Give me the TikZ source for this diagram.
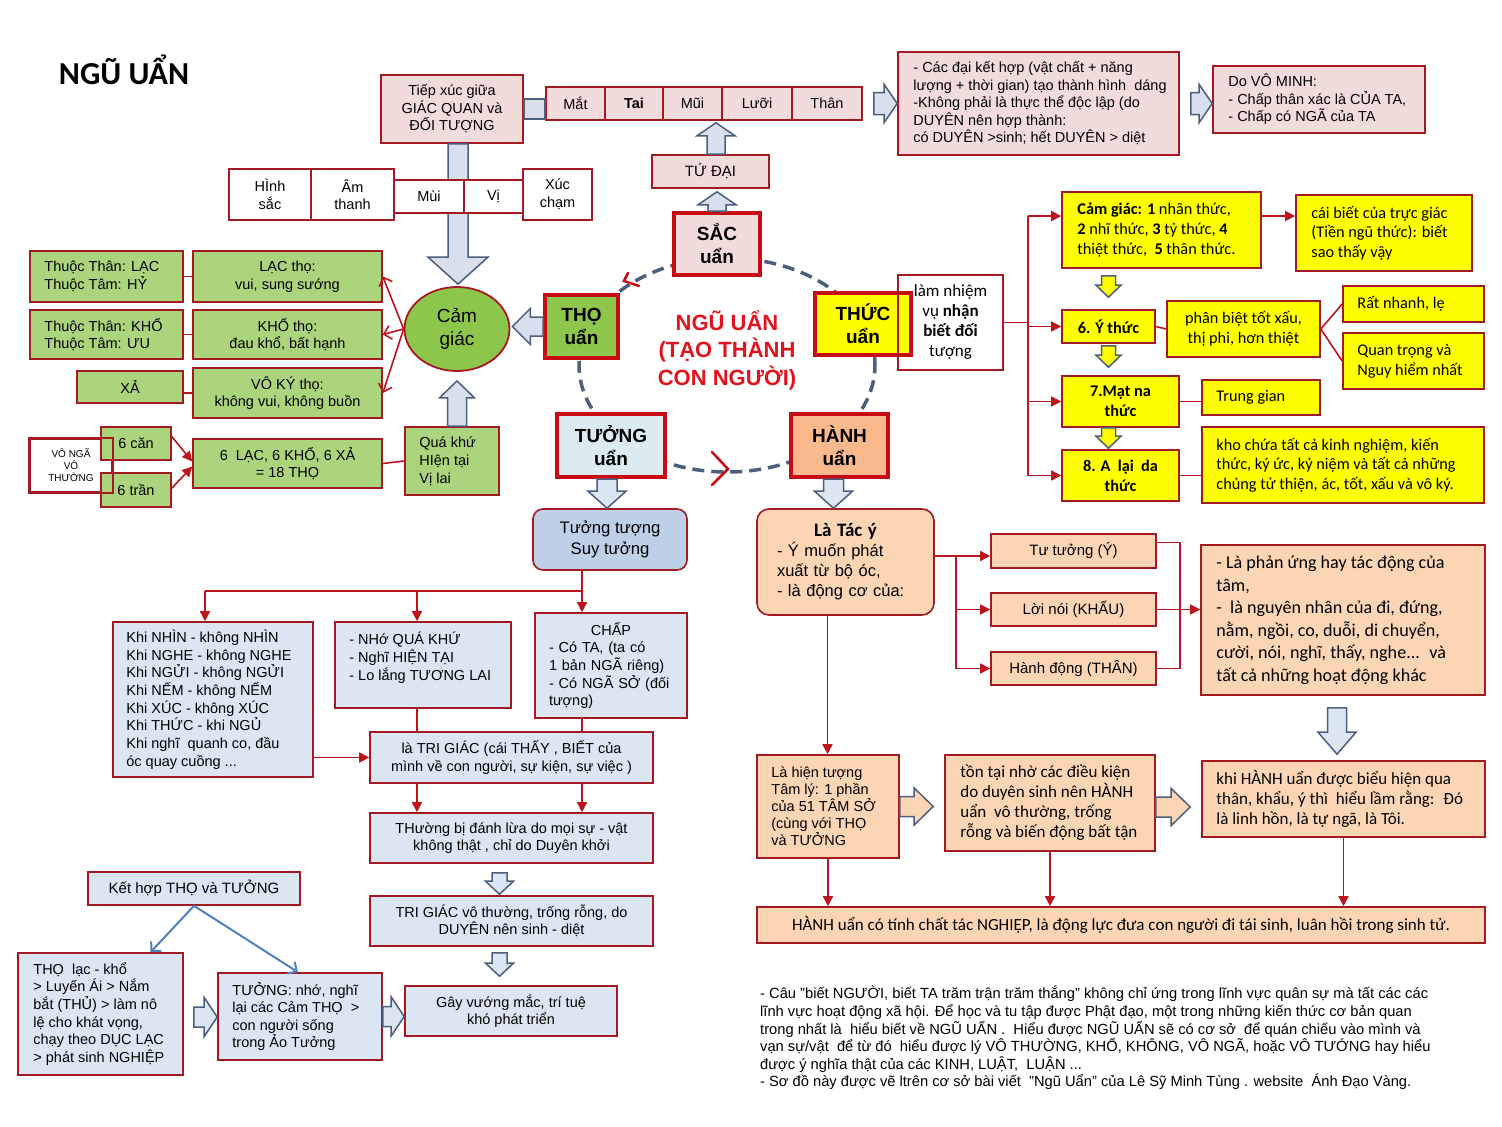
\documentclass[tikz,border=0pt]{standalone}
\usepackage{fontspec}
\setmainfont{Liberation Sans}
\newfontfamily\calfont{Carlito}
\usetikzlibrary{calc,arrows.meta,shapes.geometric}

\definecolor{dred}{RGB}{165,25,35}
\definecolor{cred}{RGB}{200,10,20}
\definecolor{lred}{RGB}{190,20,30}
\definecolor{pinkc}{RGB}{242,220,219}
\definecolor{lgreen}{RGB}{172,212,125}
\definecolor{mgreen}{RGB}{140,198,75}
\definecolor{yel}{RGB}{255,255,0}
\definecolor{lblue}{RGB}{220,230,242}
\definecolor{mblue}{RGB}{190,208,232}
\definecolor{tblue}{RGB}{220,234,242}
\definecolor{peach}{RGB}{252,213,181}
\definecolor{orng}{RGB}{249,185,140}
\definecolor{slate}{RGB}{75,95,125}
\definecolor{lav}{RGB}{218,223,238}
\definecolor{txtred}{RGB}{225,20,30}
\definecolor{steel}{RGB}{79,129,189}

\newcommand\fA{\fontsize{14.5}{17.5}\selectfont}
\newcommand\fC{\calfont\fontsize{17}{20}\selectfont}
\newcommand\fY{\calfont\fontsize{16.3}{19.7}\selectfont}

\tikzset{
  box/.style={draw=dred, line width=1.6pt, inner sep=0pt, align=center, font=\fA},
  pk/.style={fill=pinkc},
  wh/.style={fill=white},
  gr/.style={fill=lgreen},
  yb/.style={fill=yel, font=\fY},
  uan/.style={draw=cred, line width=4pt, inner sep=0pt, align=center, font=\fontsize{19}{23}\selectfont\bfseries},
  conn/.style={draw=lred, line width=1.6pt},
  carr/.style={conn, -{Triangle[length=10pt,width=10pt]}},
  barb/.style={conn, -{Straight Barb[length=7pt,width=14pt]}},
  barrow/.style={draw=slate, line width=1.5pt, fill=lav, line join=miter},
  dashring/.style={draw=slate, line width=3.5pt, dash pattern=on 12pt off 7pt},
  rmark/.style={draw=cred, line width=2.5pt, line cap=round},
}

% box: [opts]{name}{x1}{y1}{x2}{y2}{text}
\newcommand\bx[7][]{\node[box,minimum width={(#5-#3)*1pt},minimum height={(#6-#4)*1pt},#1] (#2) at ({(#3+#5)/2},{(#4+#6)/2}) {#7};}
% left-aligned box: [opts]{name}{x1}{y1}{x2}{y2}{pad}{text}
\newcommand\lbx[8][]{\node[box,minimum width={(#5-#3)*1pt},minimum height={(#6-#4)*1pt},#1] (#2) at ({(#3+#5)/2},{(#4+#6)/2}) {};
  \node[align=left,inner sep=0pt,anchor=west,font=\fA,#1,draw=none,fill=none] (#2-t) at ($(#2.west)+(#7,0)$) {#8};}
% fixed text width box
\newcommand\wbx[8][]{\pgfmathsetmacro\tw{#5-#3-2*#7}\node[box,align=left,text width=\tw pt,inner xsep=#7pt,minimum height={(#6-#4)*1pt},#1] (#2) at ({(#3+#5)/2},{(#4+#6)/2}) {#8};}
% vertical block arrow: [opts]{start}{tip}{shaft half}{head half}{head length (signed)}
\newcommand\varr[6][]{\coordinate (va1) at #2; \coordinate (vq) at #3; \coordinate (va2) at (va1 |- vq);
  \draw[barrow,#1] ($(va1)+({-#4},0)$) -- ($(va2)+({-#4},{-(#6)})$) -- ($(va2)+({-#5},{-(#6)})$) -- (va2) -- ($(va2)+({#5},{-(#6)})$) -- ($(va2)+({#4},{-(#6)})$) -- ($(va1)+({#4},0)$) -- cycle;}
% horizontal block arrow
\newcommand\harr[6][]{\coordinate (ha1) at #2; \coordinate (hq) at #3; \coordinate (ha2) at (hq |- ha1);
  \draw[barrow,#1] ($(ha1)+(0,{-#4})$) -- ($(ha2)+({-(#6)},{-#4})$) -- ($(ha2)+({-(#6)},{-#5})$) -- (ha2) -- ($(ha2)+({-(#6)},{#5})$) -- ($(ha2)+({-(#6)},{#4})$) -- ($(ha1)+(0,{#4})$) -- cycle;}

\begin{document}
\begin{tikzpicture}[x=1pt,y=-1pt]
\fill[white] (0,0) rectangle (1502,1127);
\useasboundingbox (0,0) rectangle (1502,1127);

% title
\node[font=\calfont\fontsize{32}{36}\selectfont\bfseries, inner sep=0pt] (title) at (124,70) {NGŨ UẨN};

% ===== top (SAC) =====
\bx[pk]{tiep}{381}{75}{523}{143}{Tiếp xúc giữa\\GIÁC QUAN và\\ĐỐI TƯỢNG}
\node[ellipse, draw=dred, line width=1.8pt, fill=mgreen, minimum width=105pt, minimum height=84pt, inner sep=0pt, align=center, font=\fontsize{19}{23}\selectfont] (camgiac) at (457,329) {Cảm\\giác};
\varr{($(tiep.south)+(6,0)$)}{($(camgiac.north)+(0,-2)$)}{10}{30}{27}
\bx[wh]{hinh}{229}{169}{311}{220}{HÌnh\\sắc}
\bx[wh]{am}{311}{169}{394}{220}{Âm\\thanh}
\bx[wh]{muiob}{394}{180}{464}{213}{Mùi}
\bx[wh]{vi}{464}{180}{523}{213}{Vị}
\bx[wh]{xuc}{523}{169}{592}{220}{Xúc\\chạm}

\bx[pk]{mat}{546}{87}{605}{120}{Mắt}
\bx[pk]{tai}{605}{87}{663}{120}{\textbf{Tai}}
\bx[pk]{mui}{663}{87}{722}{120}{Mũi}
\bx[pk]{luoi}{722}{87}{792}{120}{Lưỡi}
\bx[pk]{than}{792}{87}{862}{120}{Thân}
\draw[barrow] ($(tiep.east)+(0,-10)$) rectangle ($(tiep.east -| mat.west)+(0,10)$);

\bx[pk,font=\fontsize{15}{18}\selectfont]{tudai}{652}{155}{769}{188}{TỨ ĐẠI}
\lbx[pk]{cacdai}{898}{52}{1179}{155}{16}{- Các đại kết hợp (vật chất + năng\\lượng + thời gian) tạo thành hình~ dáng\\-Không phải là thực thể độc lập (do\\DUYÊN nên hợp thành:\\có DUYÊN >sinh; hết DUYÊN > diệt}
\lbx[pk]{vominh}{1213}{66}{1425}{133}{16}{Do VÔ MINH:\\- Chấp thân xác là CỦA TA,\\- Chấp có NGÃ của TA}

% ===== centre ring =====
\draw[dashring] (727,365) ellipse [x radius=148pt, y radius=107pt];
\node[uan, fill=pinkc, minimum width=86pt, minimum height=62pt] (sac) at (717,244) {SẮC\\uẩn};
\node[uan, fill=mgreen, minimum width=73pt, minimum height=63pt] (tho) at (581.5,326.5) {THỌ\\uẩn};
\node[uan, fill=yel, minimum width=96pt, minimum height=62pt] (thuc) at (863,324) {THỨC\\uẩn};
\node[uan, fill=tblue, minimum width=108pt, minimum height=63pt] (tuong) at (611,445.5) {TƯỞNG\\uẩn};
\node[uan, fill=orng, minimum width=97pt, minimum height=63pt] (hanh) at (839.5,445.5) {HÀNH\\uẩn};
\node[text=txtred, font=\fontsize{22}{27.5}\selectfont\bfseries, align=center, inner sep=0pt] (ctext) at (727,350) {NGŨ UẨN\\(TẠO THÀNH\\CON NGƯỜI)};
\draw[rmark] (628,273) -- (624,281) -- (639,286);
\draw[rmark] (712,452) -- (728,469) -- (712,485);

\varr{($(tudai.north)+(5.5,0)$)}{($(mat.south)+(0,2)$)}{9}{19}{-13}
\varr{(sac.north)}{($(tudai.south)+(0,3)$)}{9}{19}{-13}
\harr{($(than.east)+(11,0)$)}{(cacdai.west)}{11}{19}{13}
\harr{($(cacdai.east)+(11,0)$)}{(vominh.west)}{11}{19}{13}

% ===== left (THO) =====
\lbx[gr]{lac1}{30}{251}{183}{302}{15}{Thuộc Thân: LẠC\\Thuộc Tâm: HỶ}
\bx[gr]{lac2}{193}{251}{382}{302}{LẠC thọ:\\vui, sung sướng}
\lbx[gr]{kho1}{30}{310}{183}{359}{15}{Thuộc Thân: KHỔ\\Thuộc Tâm: ƯU}
\bx[gr]{kho2}{193}{310}{382}{359}{KHỔ thọ:\\đau khổ, bất hạnh}
\bx[gr]{xa1}{77}{371}{183}{403}{XẢ}
\bx[gr]{xa2}{193}{368}{382}{418}{VÔ KÝ thọ:\\không vui, không buồn}
\bx[wh,font=\fontsize{10}{12}\selectfont]{vonga}{30}{439}{112}{492}{VÔ NGÃ\\VÔ\\THƯỜNG}
\bx[gr]{can6}{101}{427}{171}{460}{6 căn}
\bx[gr]{tran6}{101}{473}{171}{507}{6 trần}
\draw[dred, line width=1.6pt] (vonga.north west) rectangle (vonga.south east);
\bx[gr]{tho18}{193}{439}{382}{488}{6~ LẠC, 6 KHỔ, 6 XẢ\\= 18 THỌ}
\lbx[gr,font=\fontsize{14.5}{18}\selectfont]{quakhu}{405}{427}{499}{495}{15}{Quá khứ\\HIện tại\\Vị lai}

\draw[conn] (lac1) -- (lac2);
\draw[conn] (kho1) -- (kho2);
\draw[conn] (xa2.west -| xa1.east) -- (xa2.west);
\draw[barb] (camgiac.west) -- (lac2.east);
\draw[barb] (camgiac.west) -- (kho2.east);
\draw[barb] (camgiac.west) -- (xa2.east);
\draw[carr] ($(can6.north east)!0.3!(can6.south east)$) -- ($(tho18.west)+(0,-2)$);
\draw[carr] ($(tran6.north east)!0.45!(tran6.south east)$) -- ($(tho18.west)+(0,3)$);
\draw[conn] (tho18.east) -- (quakhu.west);
\varr{($(quakhu.north)+(5,0)$)}{($(camgiac.south)+(0,9)$)}{9.5}{17.5}{-17}
\harr{(tho.west)}{($(camgiac.east)+(2,0)$)}{9.5}{18}{-18}

% ===== THUC =====
\bx[font=\fC]{lamnv}{898}{275}{1003}{370}{làm nhiệm\\vụ \textbf{nhận}\\\textbf{biết đối}\\tượng}
\lbx[yb]{cgy}{1062}{192}{1261}{268}{16}{\textbf{Cảm giác: 1} nhãn thức,\\\textbf{2} nhĩ thức, \textbf{3} tỷ thức, \textbf{4}\\thiệt thức,~ \textbf{5} thân thức.}
\lbx[yb]{truc}{1296}{195}{1472}{271}{16}{cái biết của trực giác\\(Tiền ngũ thức): biết\\sao thấy vậy}
\bx[yb,font=\fY\bfseries]{yt}{1062}{310}{1155}{343}{6. Ý thức}
\bx[yb]{phanbiet}{1167}{301}{1320}{357}{phân biệt tốt xấu,\\thị phi, hơn thiệt}
\lbx[yb]{ratnhanh}{1343}{286}{1484}{322}{15}{Rất nhanh, lẹ}
\lbx[yb]{quantrong}{1343}{333}{1484}{389}{15}{Quan trọng và\\Nguy hiểm nhất}
\bx[yb,font=\fY\bfseries]{matna}{1062}{376}{1179}{427}{7.Mạt na\\thức}
\lbx[yb]{trunggian}{1202}{380}{1320}{415}{15}{Trung gian}
\bx[yb,font=\fY\bfseries]{alaya}{1062}{450}{1179}{501}{8. A~ lại~ da\\thức}
\lbx[yb]{khochua}{1202}{427}{1484}{503}{15}{kho chứa tất cả kinh nghiệm, kiến\\thức, ký ức, kỷ niệm và tất cả những\\chủng tử thiện, ác, tốt, xấu và vô ký.}

\coordinate (tk) at ($(lamnv.east)+(24,0)$);
\coordinate (cgyin) at ($(cgy.north west)!0.32!(cgy.south west)$);
\draw[conn] (lamnv.east) -- (tk);
\draw[conn] (tk |- cgyin) -- (tk |- alaya.west);
\draw[carr] (tk |- cgyin) -- (cgyin);
\draw[carr] (tk |- yt.west) -- (yt.west);
\draw[carr] (tk |- matna.west) -- (matna.west);
\draw[carr] (tk |- alaya.west) -- (alaya.west);
\draw[carr] (cgyin -| cgy.east) -- (cgyin -| truc.west);
\draw[conn] (yt.east) -- (phanbiet.west);
\draw[conn] (phanbiet.east) -- (ratnhanh.west);
\draw[conn] (phanbiet.east) -- (quantrong.west);
\draw[conn] (matna.east) -- (matna.east -| trunggian.west);
\draw[conn] (alaya.east) -- (alaya.east -| khochua.west);
\varr[fill=yel]{($(yt.north |- cgy.south)+(0,7)$)}{($(yt.north)+(0,-12)$)}{7}{12.5}{12}
\varr[fill=yel]{($(yt.south)+(0,2)$)}{($(matna.north -| yt.north)+(0,-8)$)}{7}{12.5}{12}
\varr[fill=yel]{(yt.south |- matna.south)}{($(alaya.north -| yt.north)+(0,-1)$)}{7}{12.5}{12}

% ===== TUONG =====
\bx[fill=mblue,rounded corners=10pt,font=\fontsize{16.7}{20.5}\selectfont]{tt}{533}{509}{687}{570}{Tưởng tượng\\Suy tưởng}
\lbx[fill=lblue,font=\fontsize{14.5}{17.7}\selectfont]{khinhin}{113}{622}{313}{777}{14}{Khi NHÌN - không NHÌN\\Khi NGHE - không NGHE\\Khi NGỬI - không NGỬI\\Khi NẾM - không NẾM\\Khi XÚC - không XÚC\\Khi THỨC - khi NGỦ\\Khi nghĩ~ quanh co, đầu\\óc quay cuồng ...}
\lbx[fill=lblue,font=\fontsize{14.5}{18}\selectfont]{nho}{335}{622}{511}{708}{15}{- NHớ QUÁ KHỨ\\- Nghĩ HIỆN TẠI\\- Lo lắng TƯƠNG LAI\\~}
\wbx[fill=lblue,font=\fontsize{14.5}{17.7}\selectfont]{chap}{535}{613}{687}{718}{14}{\makebox[\linewidth][c]{CHẤP}\\- Có TA, (ta có\\1 bản NGÃ riêng)\\- Có NGÃ SỞ (đối\\tượng)}
\bx[fill=lblue]{trigiac}{370}{732}{653}{783}{là TRI GIÁC (cái THẤY , BIẾT của\\mình về con người, sự kiện, sự việc )}
\bx[fill=lblue]{thuong}{370}{813}{653}{863}{THường bị đánh lừa do mọi sự - vật\\không thật , chỉ do Duyên khởi}
\bx[fill=lblue]{tgvt}{370}{896}{653}{946}{TRI GIÁC vô thường, trống rỗng, do\\DUYÊN nên sinh - diệt}
\bx[fill=lblue]{gay}{405}{986}{617}{1036}{Gây vướng mắc, trí tuệ\\khó phát triển}
\bx[fill=lblue,font=\fontsize{15}{18}\selectfont]{kethop}{88}{872}{300}{905}{Kết hợp THỌ và TƯỞNG}
\lbx[fill=lblue,font=\fontsize{14.5}{17.6}\selectfont]{thola}{18}{953}{183}{1075}{16}{THỌ~ lạc - khổ\\> Luyến Ái > Nắm\\bắt (THỦ) > làm nô\\lệ cho khát vọng,\\chạy theo DỤC LẠC\\> phát sinh NGHIỆP}
\lbx[fill=lblue,font=\fontsize{14.5}{17.6}\selectfont]{tuongao}{218}{973}{382}{1060}{15}{TƯỞNG: nhớ, nghĩ\\lại các Cảm THỌ~ >\\con người sống\\trong Ảo Tưởng}

\varr[fill=lblue]{($(tuong.south)+(-4,0)$)}{(tt.north)}{10}{19}{17}
\coordinate (b1) at (205,591);
\coordinate (b2) at (417,591);
\coordinate (b3) at (582,591);
\draw[conn] (b3 |- tt.south) -- (b3);
\draw[conn] (b1) -- (b3);
\draw[carr] (b1) -- (b1 |- khinhin.north);
\draw[carr] (b2) -- (b2 |- nho.north);
\draw[carr] (b3) -- (b3 |- chap.north);
\draw[carr] (trigiac.west -| khinhin.east) -- (trigiac.west);
\draw[conn] (b2 |- nho.south) -- (b2 |- trigiac.north);
\draw[conn] (b3 |- chap.south) -- (b3 |- trigiac.north);
\draw[carr] (b2 |- trigiac.south) -- (b2 |- thuong.north);
\draw[carr] (b3 |- trigiac.south) -- (b3 |- thuong.north);
\varr[fill=lblue]{($(thuong.south)+(-12,9)$)}{($(tgvt.north)+(0,-1)$)}{7.5}{14}{13}
\varr[fill=lblue]{($(tgvt.south)+(-12,6)$)}{($(gay.north)+(0,-9)$)}{7.5}{14}{13}
\draw[barb, draw=steel, line width=2pt] (kethop.south) -- ($(thola.north)+(50,0)$);
\draw[barb, draw=steel, line width=2pt] (kethop.south) -- ($(tuongao.north)+(-2,0)$);
\harr[fill=lblue]{($(thola.east)+(10,3)$)}{(tuongao.west)}{10}{19.5}{13}
\harr[fill=lblue]{(tuongao.east)}{(gay.west)}{10}{19.5}{13}

% ===== HANH =====
\wbx[fill=peach,rounded corners=12pt,font=\fontsize{16.5}{20}\selectfont]{tacy}{757}{509}{934}{615}{20}{\makebox[\linewidth][c]{\calfont\fontsize{19}{20}\selectfont\bfseries Là Tác ý}\\- Ý muốn phát\\xuất từ bộ óc,\\- là động cơ của:}
\varr[fill=lblue]{($(hanh.south)+(-6,0)$)}{(tacy.north)}{10}{19}{17}
\bx[fill=peach,font=\fontsize{15}{18}\selectfont]{tutuong}{991}{534}{1156}{568}{Tư tưởng (Ý)}
\bx[fill=peach,font=\fontsize{15}{18}\selectfont]{loinoi}{991}{593}{1156}{626}{Lời nói (KHẨU)}
\bx[fill=peach,font=\fontsize{15}{18}\selectfont]{hanhdong}{991}{652}{1156}{685}{Hành động (THÂN)}
\lbx[fill=peach,font=\calfont\fontsize{18.1}{22.5}\selectfont]{phanung}{1201}{545}{1485}{695}{16}{- Là phản ứng hay tác động của\\tâm,\\- ~là nguyên nhân của đi, đứng,\\nằm, ngồi, co, duỗi, di chuyển,\\cười, nói, nghĩ, thấy, nghe...~ và\\tất cả những hoạt động khác}
\lbx[fill=peach,font=\fontsize{14.5}{17}\selectfont]{lahien}{757}{755}{899}{858}{15}{Là hiện tượng\\Tâm lý: 1 phần\\của 51 TÂM SỞ\\(cùng với THỌ\\và TƯỞNG}
\lbx[fill=peach,font=\fC]{tontai}{945}{755}{1155}{851}{16}{tồn tại nhờ các điều kiện\\do duyên sinh nên HÀNH\\uẩn~ vô thường, trống\\rỗng và biến động bất tận}
\lbx[fill=peach,font=\fC]{khihanh}{1202}{761}{1485}{837}{15}{khi HÀNH uẩn được biểu hiện qua\\thân, khẩu, ý thì~ hiểu lầm rằng:~ Đó\\là linh hồn, là tự ngã, là Tôi.}
\bx[fill=peach,font=\fC]{hbot}{757}{907}{1485}{943}{HÀNH uẩn có tính chất tác NGHIỆP, là động lực đưa con người đi tái sinh, luân hồi trong sinh tử.}

\coordinate (hb) at (956,556);
\draw[conn] (hb -| tacy.east) -- (hb) -- (hb |- hanhdong.west);
\draw[carr] (hb) -- (hb -| tutuong.west);
\draw[carr] (hb |- loinoi.west) -- (loinoi.west);
\draw[carr] (hb |- hanhdong.west) -- (hanhdong.west);
\coordinate (tuo) at ($(tutuong.north east)!0.26!(tutuong.south east)$);
\coordinate (rb) at ($(tuo)+(23,0)$);
\draw[conn] (tuo) -- (rb) -- (rb |- hanhdong.east) -- (hanhdong.east);
\draw[carr] (loinoi.east) -- (loinoi.east -| phanung.west);
\varr[fill=lblue]{($(phanung.south)+(-6,12)$)}{($(khihanh.north)+(0,-6)$)}{9.5}{19}{22}
\coordinate (ta) at ($(tacy.south)+(-18,0)$);
\draw[carr] (ta) -- (ta |- lahien.north);
\harr[fill=peach]{(lahien.east)}{($(tontai.west)+(-11,0)$)}{10}{18.5}{19}
\harr[fill=peach]{($(tontai.east)+(0,4)$)}{($(khihanh.west)+(-11,0)$)}{10}{18.5}{19}
\draw[carr] (lahien.south) -- (lahien.south |- hbot.north);
\draw[carr] (tontai.south) -- (tontai.south |- hbot.north);
\draw[carr] (khihanh.south) -- (khihanh.south |- hbot.north);

% ===== note =====
\node[anchor=north west, align=left, inner sep=0pt, font=\fontsize{14.7}{17.6}\selectfont] (note) at (760,986) {- Câu "biết NGƯỜI, biết TA trăm trận trăm thắng" không chỉ ứng trong lĩnh vực quân sự mà tất các các\\lĩnh vực hoạt động xã hội. Để học và tu tập được Phật đạo, một trong những kiến thức cơ bản quan\\trong nhất là~ hiểu biết về NGŨ UẨN .~ Hiểu được NGŨ UẨN sẽ có cơ sở~ để quán chiếu vào mình và\\vạn sự/vật~ để từ đó~ hiểu được lý VÔ THƯỜNG, KHỔ, KHÔNG, VÔ NGÃ, hoặc VÔ TƯỚNG hay hiểu\\được ý nghĩa thật của các KINH, LUẬT,~ LUẬN ...\\- Sơ đồ này được vẽ ltrên cơ sở bài viết~ "Ngũ Uẩn" của Lê Sỹ Minh Tùng . website~ Ánh Đạo Vàng.};
\end{tikzpicture}
\end{document}
